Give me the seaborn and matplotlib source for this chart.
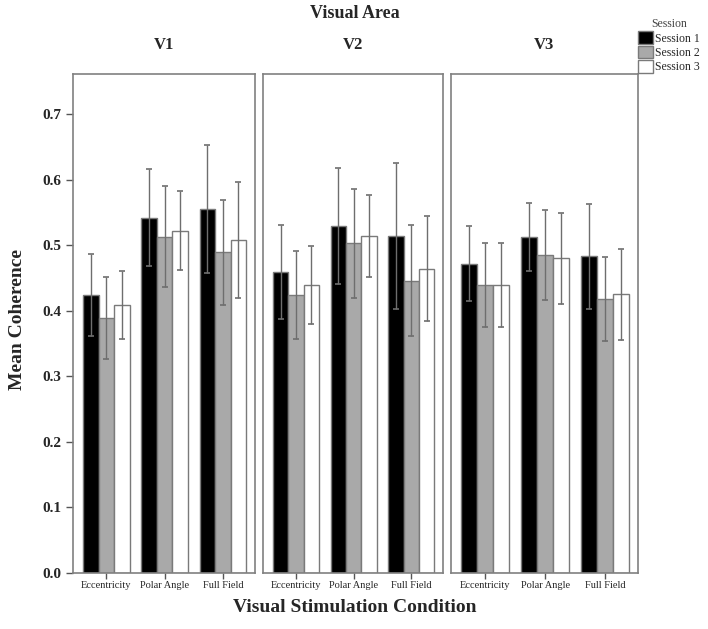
import pandas as pd
import seaborn as sns
import matplotlib.pyplot as plt
from matplotlib.patches import Patch

areas = ['V1', 'V2', 'V3']
conditions = ['Eccentricity', 'Polar Angle', 'Full Field']
sessions = ['Session 1', 'Session 2', 'Session 3']

# mean coherence, per area: [condition][session]
means_v1 = [[0.424, 0.389, 0.409], [0.542, 0.513, 0.522], [0.555, 0.489, 0.508]]
means_v2 = [[0.459, 0.424, 0.439], [0.529, 0.503, 0.514], [0.514, 0.446, 0.464]]
means_v3 = [[0.472, 0.439, 0.439], [0.513, 0.485, 0.480], [0.483, 0.418, 0.425]]

# half width of error bars
err_v1 = [[0.063, 0.062, 0.052], [0.074, 0.077, 0.060], [0.098, 0.080, 0.089]]
err_v2 = [[0.071, 0.067, 0.059], [0.088, 0.083, 0.063], [0.111, 0.085, 0.080]]
err_v3 = [[0.057, 0.064, 0.064], [0.052, 0.068, 0.069], [0.080, 0.064, 0.069]]

colors = ['#000000', '#a9a9a9', '#ffffff']
edge = '#7a7a7a'

rows = []
for area, m, e in zip(areas, [means_v1, means_v2, means_v3], [err_v1, err_v2, err_v3]):
    for i, cond in enumerate(conditions):
        for j, ses in enumerate(sessions):
            rows.append({'area': area, 'condition': cond, 'session': ses,
                         'mean': m[i][j], 'err': e[i][j]})
df = pd.DataFrame(rows)

sns.set_style('white')
plt.rcParams['font.family'] = ['Liberation Serif', 'DejaVu Serif']

fig = plt.figure(figsize=(7.08, 6.29), dpi=100)
lefts = [73, 263, 451]
rights = [255, 443, 638]
bottom = 1 - 573 / 629
top = 1 - 74 / 629

for k, area in enumerate(areas):
    ax = fig.add_axes([lefts[k] / 708, bottom, (rights[k] - lefts[k]) / 708, top - bottom])
    sub = df[df['area'] == area]
    sns.barplot(data=sub, x='condition', y='mean', hue='session', order=conditions,
                hue_order=sessions, palette=colors, edgecolor=edge, linewidth=1,
                errorbar=None, width=0.8, ax=ax, legend=False)
    bar_containers = list(ax.containers)
    # error bars on the bars seaborn drew
    for j, cont in enumerate(bar_containers):
        for i, bar in enumerate(cont):
            val = sub[(sub['condition'] == conditions[i]) & (sub['session'] == sessions[j])]
            xc = bar.get_x() + bar.get_width() / 2
            ax.errorbar(xc, val['mean'].values[0], yerr=val['err'].values[0],
                        fmt='none', ecolor='#6e6e6e', elinewidth=1, capsize=2,
                        capthick=1.2)
    ax.set_ylim(0, 0.761)
    ax.set_xlim(-0.575, 2.55)
    ax.set_xlabel('')
    ax.set_ylabel('')
    ax.set_title(area, fontsize=12, fontweight='bold', pad=18)
    for s in ax.spines.values():
        s.set_color('#808080')
        s.set_linewidth(1.2)
    ax.tick_params(axis='x', bottom=True, length=4, width=1, color='#555555',
                   labelsize=7.5, pad=2)
    if k == 0:
        ax.set_yticks([0.0, 0.1, 0.2, 0.3, 0.4, 0.5, 0.6, 0.7])
        ax.set_yticklabels(['0.0', '0.1', '0.2', '0.3', '0.4', '0.5', '0.6', '0.7'],
                           fontsize=11, fontweight='bold')
        ax.tick_params(axis='y', left=True, length=5, width=1, color='#555555')
    else:
        ax.set_yticks([])

fig.text(355 / 708, 1 - 14 / 629, 'Visual Area', ha='center', va='center',
         fontsize=13, fontweight='bold')
fig.text(355 / 708, 1 - 608 / 629, 'Visual Stimulation Condition', ha='center',
         va='center', fontsize=14, fontweight='bold')
fig.text(18 / 708, 1 - 320 / 629, 'Mean Coherence', ha='center', va='center',
         rotation=90, fontsize=14, fontweight='bold')

handles = [Patch(facecolor=c, edgecolor=edge) for c in colors]
leg = fig.legend(handles, sessions, title='Session', loc='upper left',
                 bbox_to_anchor=(630 / 708, 1 - 10 / 629), frameon=False,
                 fontsize=8.5, title_fontsize=8.5, handlelength=1.25, handleheight=1.25,
                 handletextpad=0.15, labelspacing=0.1, borderpad=0.2)
leg.get_title().set_color('#444444')

fig.savefig('out.png', dpi=100)
